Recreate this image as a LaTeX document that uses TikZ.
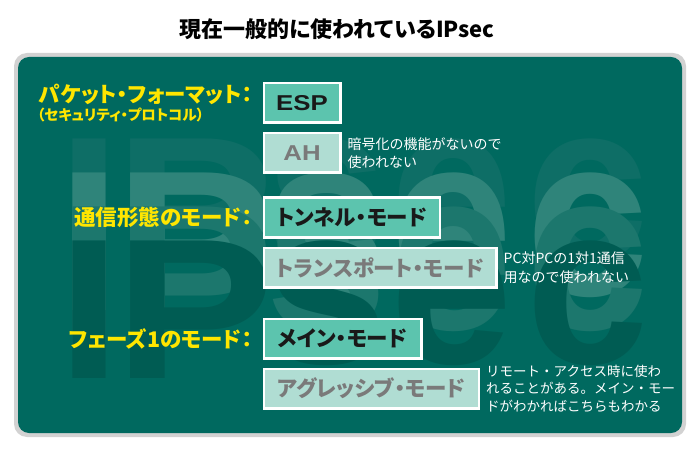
\documentclass[tikz,border=0pt]{standalone}
\usepackage{fontspec}
\usepackage{graphicx}
\setmainfont{Noto Sans CJK JP}
\newfontfamily\paltfont{Noto Sans CJK JP}[RawFeature=+palt]
\newfontfamily\wmfont{Liberation Sans}
\newfontfamily\latinfont{Liberation Sans}
\usetikzlibrary{positioning}

\definecolor{panelgreen}{HTML}{00695F}
\definecolor{rimgray}{HTML}{D2D2D2}
\definecolor{boxdark}{HTML}{5CC4AE}
\definecolor{boxlight}{HTML}{B0DDD3}
\definecolor{greytext}{HTML}{7A7A7A}
\definecolor{labelyellow}{HTML}{FFE600}
\definecolor{wmA}{HTML}{0E6E66}
\definecolor{wmB}{HTML}{2F847A}
\definecolor{wmC}{HTML}{1C776D}
\definecolor{wmD}{HTML}{005C53}

\tikzset{
    modebox/.style={draw=white, line width=2.5pt, minimum height=39.5pt,
        inner xsep=12pt, inner ysep=0pt, font=\paltfont\bfseries\fontsize{21.5}{21.5}\selectfont},
    usedbox/.style={modebox, fill=boxdark, text=black!90},
    unusedbox/.style={modebox, fill=boxlight, text=greytext},
    modelabel/.style={text=labelyellow, inner sep=0pt,
        font=\paltfont\bfseries\fontsize{21.5}{21.5}\selectfont},
    note/.style={text=white, align=left, inner sep=0pt,
        font=\fontsize{14}{18.5}\selectfont},
}

\begin{document}
\begin{tikzpicture}[x=1pt, y=-1pt]
    \useasboundingbox (0,0) rectangle (700,454);

    \node[font=\paltfont\bfseries\fontsize{22}{22}\selectfont] (title) at (337,29) {現在一般的に使われているIPsec};

    % panel
    \fill[rimgray, rounded corners=13pt] (14,53) rectangle (686,437);
    \fill[panelgreen, rounded corners=11pt] (18,57) rectangle (682,433);

    % IPsec watermark, four copies stepping down
    \foreach \dy/\wc in {0/wmA, 34/wmB, 68/wmC, 102/wmD} {
        \foreach \ch/\cx/\sx/\sy/\by in {I/89/1.15/1/276, P/195/1.2/1/276, s/327/1.1/1.14/261, e/452/1.1/1.14/261, c/588/1.1/1.14/261} {
            \node[anchor=base, inner sep=0pt, text=\wc, xscale=\sx, yscale=\sy,
                font=\wmfont\bfseries\fontsize{200}{200}\selectfont] at (\cx,\by+\dy) {\ch};
        }
    }

    % packet format
    \node[usedbox, anchor=west, minimum width=76.5pt] (esp) at (262.5,103) {\latinfont\bfseries\scalebox{1.2}[1]{ESP}};
    \node[unusedbox, below right=8pt and 0pt of esp.south west, minimum width=76.5pt] (ah) {\latinfont\bfseries\scalebox{1.2}[1]{AH}};
    \node[modelabel, anchor=east] (fmtlabel) at ([xshift=-10pt,yshift=9pt]esp.west) {パケット・フォーマット：};
    \node[modelabel, anchor=west, font=\paltfont\bfseries\fontsize{14.5}{14.5}\selectfont] (fmtsub) at ([xshift=-2pt,yshift=-21pt]fmtlabel.west) {（セキュリティ・プロトコル）};
    \node[note, right=6pt of ah] (ahnote) {暗号化の機能がないので\\使われない};

    % communication mode
    \node[usedbox, anchor=west, minimum width=176pt] (tunnel) at (262.5,217.5) {トンネル・モード};
    \node[unusedbox, below right=8pt and 0pt of tunnel.south west, minimum width=232.5pt] (transport) {トランスポート・モード};
    \node[modelabel, left=10pt of tunnel] (commlabel) {通信形態のモード：};
    \node[note, right=6pt of transport] (trnote) {PC対PCの1対1通信\\用なので使われない};

    % phase 1 mode
    \node[usedbox, anchor=west, minimum width=157.5pt] (mainmode) at (262.5,338.5) {メイン・モード};
    \node[unusedbox, below right=8pt and 0pt of mainmode.south west, minimum width=215pt] (aggressive) {アグレッシブ・モード};
    \node[modelabel, left=10pt of mainmode] (phaselabel) {フェーズ1のモード：};
    \node[note, right=6pt of aggressive, font=\fontsize{13.5}{17.5}\selectfont] (agnote) {リモート・アクセス時に使わ\\れることがある。メイン・モー\\ドがわかればこちらもわかる};
\end{tikzpicture}
\end{document}
